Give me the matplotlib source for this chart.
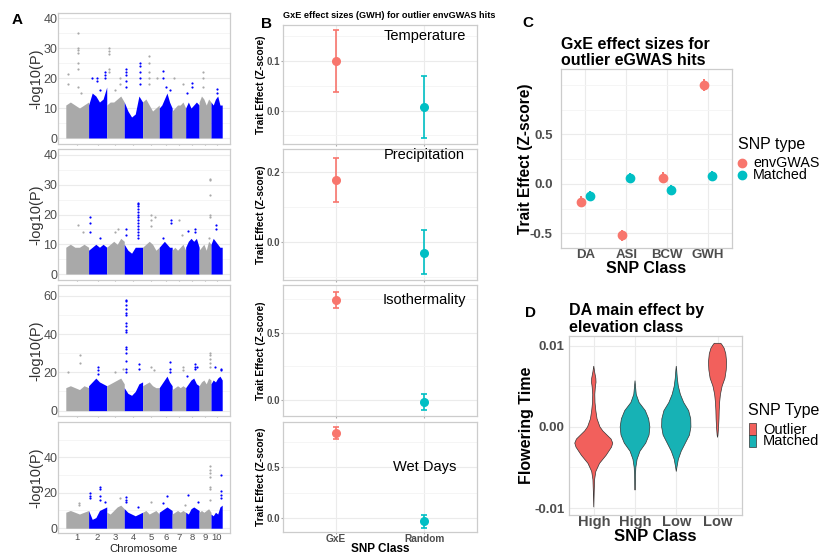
import numpy as np
import matplotlib.pyplot as plt
from matplotlib.patches import Rectangle
from matplotlib.lines import Line2D

plt.rcParams['font.family'] = ['Liberation Sans', 'DejaVu Sans']

# ---- panel A: Manhattan plots (dense band envelope + individual hits) ----
CHROM_LENGTHS = [307, 244, 236, 247, 224, 174, 182, 181, 160, 151]
CHROM_LABELS = ['1', '2', '3', '4', '5', '6', '7', '8', '9', '10']

TEMP_ENVELOPE = [
    [11, 12, 11, 10, 11, 12], [11, 15, 14, 12, 13, 17], [11, 12, 12, 13, 14, 12],
    [12, 9, 7, 8, 14, 12], [12, 13, 11, 9, 10, 11], [10, 11, 13, 15, 12, 10],
    [9, 10, 11, 11, 12, 10], [10, 12, 10, 11, 12, 11], [12, 14, 13, 11, 13, 12],
    [12, 11, 13, 14, 11, 11]]
TEMP_PEAKS = [
    (1, 0.53, [35, 30, 29.5, 28.5, 25, 23, 17]), (1, 0.09, [21.5, 18]), (1, 0.65, [15]),
    (2, 0.18, [20]), (2, 0.45, [20, 19]), (2, 0.64, [16]), (2, 0.93, [22, 21, 20]),
    (3, 0.15, [30, 29, 28, 23, 22]), (3, 0.48, [16]), (3, 0.73, [20, 18]),
    (4, 0.07, [23, 22, 21, 19, 17]), (4, 0.87, [25, 24, 22, 20, 18]),
    (5, 0.36, [27.5, 25, 22, 20, 18]), (5, 0.86, [20]),
    (6, 0.31, [22.5, 20]), (6, 0.54, [17]), (6, 0.85, [16]),
    (7, 0.13, [20]), (7, 0.82, [18]), (8, 0.5, [18.5, 17]), (8, 0.12, [15]),
    (9, 0.34, [22, 20, 17]), (10, 0.53, [16.5, 15])]

PREC_ENVELOPE = [
    [9, 10, 9, 9, 10, 9], [8, 9, 10, 9, 10, 9], [9, 10, 11, 10, 12, 11],
    [10, 8, 7, 9, 9, 9], [9, 10, 11, 10, 8, 9], [9, 10, 11, 10, 9, 9],
    [8, 9, 8, 9, 10, 8], [9, 11, 12, 11, 12, 9], [8, 9, 10, 8, 11, 10],
    [10, 12, 11, 10, 9, 9]]
PREC_PEAKS = [
    (1, 0.53, [16.5]), (1, 0.75, [14]), (2, 0.05, [19, 17, 14]), (2, 0.64, [12]),
    (3, 0.67, [15]), (3, 0.48, [14]), (4, 0.07, [15, 13]),
    (4, 0.75, [24, 23.5, 23, 22, 21, 20, 19, 18, 17, 16, 15, 14, 13, 12]),
    (5, 0.5, [20, 18, 16]), (5, 0.72, [19]), (6, 0.9, [18, 17]), (6, 0.33, [12]),
    (7, 0.54, [18]), (7, 0.74, [13]), (8, 0.69, [15, 14]), (8, 0.17, [14.5]),
    (9, 0.94, [32, 31.5, 26.5, 20, 19]), (9, 0.8, [12]), (10, 0.44, [16.5, 15])]

ISO_ENVELOPE = [
    [12, 13, 12, 11, 13, 12], [13, 15, 17, 15, 14, 13], [13, 14, 15, 16, 17, 14],
    [12, 9, 8, 10, 14, 15], [13, 14, 15, 13, 12, 12], [12, 14, 16, 18, 15, 13],
    [11, 12, 13, 12, 13, 12], [12, 14, 16, 17, 14, 13], [13, 15, 16, 14, 17, 16],
    [14, 16, 15, 17, 18, 16]]
ISO_PEAKS = [
    (1, 0.63, [29, 25]), (1, 0.09, [20]), (2, 0.51, [23, 21, 19]),
    (3, 0.48, [20]), (3, 0.92, [22]),
    (4, 0.07, [58, 57, 55, 53, 51, 50, 46, 44, 42, 41, 33, 32, 30, 26, 22, 20]),
    (4, 0.78, [24.5, 22]), (5, 0.5, [23]), (5, 0.66, [21]),
    (6, 0.85, [25.5, 22, 20]), (7, 0.82, [23, 21]),
    (8, 0.67, [24.5, 23, 22]), (8, 0.88, [23]), (8, 0.12, [18]),
    (9, 0.94, [30, 29, 27, 25, 23]), (10, 0.33, [23]), (10, 0.89, [22, 21])]

WET_ENVELOPE = [
    [9, 10, 9, 8, 9, 10], [10, 5, 6, 10, 11, 12], [9, 8, 10, 12, 13, 11],
    [11, 9, 8, 7, 8, 9], [9, 10, 8, 9, 10, 8], [9, 10, 11, 12, 11, 10],
    [8, 9, 10, 9, 10, 9], [9, 8, 11, 12, 11, 10], [9, 10, 9, 10, 11, 9],
    [8, 7, 9, 8, 12, 13]]
WET_PEAKS = [
    (1, 0.57, [14, 13]), (2, 0.09, [20, 18, 17]), (2, 0.64, [23, 22, 18, 16]),
    (2, 0.91, [15]), (3, 0.73, [17]), (4, 0.07, [17.5, 16, 15]), (4, 0.75, [12]),
    (5, 0.5, [15]), (6, 0.59, [18]), (6, 0.33, [14]), (7, 0.95, [13]),
    (8, 0.19, [19]), (8, 0.95, [15]), (9, 0.89, [35, 33, 31, 29, 23, 22, 16]),
    (10, 0.92, [30, 21, 19, 17])]

A_ENVELOPES = [TEMP_ENVELOPE, PREC_ENVELOPE, ISO_ENVELOPE, WET_ENVELOPE]
A_PEAKS = [TEMP_PEAKS, PREC_PEAKS, ISO_PEAKS, WET_PEAKS]

# ---- panel B: GxE effect sizes (GWH) ----
B_PANELS = ['Temperature', 'Precipitation', 'Isothermality', 'Wet Days']
B_CLASSES = ['GxE', 'Random']
B_GXE = [0.100, 0.178, 0.746, 0.841]
B_GXE_LO = [0.038, 0.115, 0.682, 0.779]
B_GXE_HI = [0.163, 0.240, 0.806, 0.904]
B_RANDOM = [0.007, -0.031, -0.017, -0.033]
B_RANDOM_LO = [-0.056, -0.094, -0.079, -0.099]
B_RANDOM_HI = [0.070, 0.034, 0.045, 0.027]

# ---- panel C: effect sizes per trait ----
C_CLASSES = ['DA', 'ASI', 'BCW', 'GWH']
C_ENV = [-0.18, -0.52, 0.06, 1.0]
C_ENV_ERR = [0.055, 0.055, 0.055, 0.06]
C_MATCHED = [-0.12, 0.055, -0.065, 0.08]
C_MATCHED_ERR = [0.05, 0.05, 0.05, 0.05]
C_TYPES = ['envGWAS', 'Matched']

# ---- panel D: violin outlines (value, half width) ----
D_CLASSES = ['High', 'High', 'Low', 'Low']
D_TYPES = ['Outlier', 'Matched', 'Matched', 'Outlier']
D_Y = [
    [-0.0099, -0.008, -0.0065, -0.0055, -0.0045, -0.0035, -0.0025, -0.002, -0.0015,
     -0.001, -0.0005, 0.0, 0.001, 0.002, 0.003, 0.004, 0.005, 0.0055, 0.006, 0.0068, 0.0075],
    [-0.0078, -0.007, -0.006, -0.005, -0.004, -0.003, -0.002, -0.001, 0.0, 0.001,
     0.002, 0.003, 0.004, 0.005, 0.0057],
    [-0.0055, -0.005, -0.004, -0.003, -0.002, -0.001, 0.0, 0.001, 0.002, 0.003,
     0.004, 0.005, 0.006, 0.007, 0.0075],
    [-0.0013, -0.001, 0.0, 0.001, 0.002, 0.003, 0.004, 0.005, 0.006, 0.007, 0.008,
     0.009, 0.0097, 0.0101, 0.0103]]
D_W = [
    [0.0, 0.01, 0.02, 0.05, 0.14, 0.3, 0.43, 0.46, 0.42, 0.32, 0.22, 0.15, 0.08, 0.05,
     0.03, 0.025, 0.04, 0.055, 0.05, 0.02, 0.0],
    [0.0, 0.006, 0.01, 0.02, 0.05, 0.12, 0.26, 0.34, 0.36, 0.33, 0.25, 0.1, 0.03, 0.012, 0.0],
    [0.0, 0.015, 0.05, 0.12, 0.22, 0.32, 0.355, 0.35, 0.3, 0.18, 0.1, 0.05, 0.025, 0.01, 0.0],
    [0.0, 0.01, 0.025, 0.035, 0.04, 0.05, 0.07, 0.11, 0.18, 0.21, 0.22, 0.2, 0.16, 0.11, 0.08]]
D_LEGEND = ['Outlier', 'Matched']

RED = '#F8766D'
TEAL = '#00BFC4'
VRED = '#F2605C'
VTEAL = '#17B2B5'
GREY_TXT = '#4D4D4D'

W, H = 822, 554
fig = plt.figure(figsize=(8.22, 5.54), dpi=100)


def px_axes(left, top, right, bottom):
    return fig.add_axes([left / W, 1 - bottom / H, (right - left) / W, (bottom - top) / H])


def ftext(x, y, s, **kw):
    kw.setdefault('va', 'center')
    return fig.text(x / W, 1 - y / H, s, **kw)


def gg_style(ax, major_x=True):
    ax.set_facecolor('white')
    for s in ax.spines.values():
        s.set_color('#CCCCCC')
        s.set_linewidth(0.9)
    ax.set_axisbelow(True)
    ax.grid(which='major', axis='y', color='#EBEBEB', lw=0.8)
    ax.grid(which='minor', axis='y', color='#F4F4F4', lw=0.6)
    if major_x:
        ax.grid(which='major', axis='x', color='#EBEBEB', lw=0.8)
    ax.tick_params(which='major', length=1.5, color='#AAAAAA', pad=1)
    ax.tick_params(which='minor', length=0)


# ---- Panel A ----
offsets = np.concatenate([[0], np.cumsum(CHROM_LENGTHS)[:-1]])
centers = offsets + np.array(CHROM_LENGTHS) / 2
total = sum(CHROM_LENGTHS)
a_rows = [(13, 144), (149, 280), (285, 416), (422, 533)]
a_ylims = [(-2, 41.7), (-2, 42), (-2.8, 65.6), (-2.7, 59.9)]
a_ticks = [[0, 10, 20, 30, 40], [0, 10, 20, 30, 40], [0, 20, 40, 60], [0, 20, 40]]
for i, (top, bot) in enumerate(a_rows):
    ax = px_axes(58, top, 230, bot)
    gg_style(ax, major_x=False)
    for c in range(10):
        col = '#A9A9A9' if c % 2 == 0 else '#0000FF'
        env = A_ENVELOPES[i][c]
        xs = np.linspace(offsets[c], offsets[c] + CHROM_LENGTHS[c], len(env))
        ax.fill_between(xs, 0, env, color=col, lw=0)
    for chrom, frac, vals in A_PEAKS[i]:
        col = '#A9A9A9' if (chrom - 1) % 2 == 0 else '#0000FF'
        x = offsets[chrom - 1] + frac * CHROM_LENGTHS[chrom - 1]
        ax.scatter([x] * len(vals), vals, s=2.5, color=col, lw=0)
    ax.set_xlim(-105, total + 105)
    ax.set_ylim(*a_ylims[i])
    ax.set_yticks(a_ticks[i])
    step = a_ticks[i][1] - a_ticks[i][0]
    ax.set_yticks(np.arange(step / 2, a_ylims[i][1], step), minor=True)
    ax.set_xticks(centers)
    ax.tick_params(axis='y', labelsize=9, labelcolor=GREY_TXT, length=0, pad=0.5)
    if i == 3:
        ax.tick_params(axis='x', length=0, pad=0)
        ax.set_xticklabels(CHROM_LABELS, fontsize=6.8, color=GREY_TXT)
    else:
        ax.tick_params(axis='x', length=1, pad=0.2)
        ax.set_xticklabels([])
    ftext(36, (top + bot) / 2, '-log10(P)', rotation=90, ha='center', fontsize=10.5,
          color='#333333')
ftext(144, 548.8, 'Chromosome', ha='center', fontsize=8.2, color='#222222')
ftext(17, 20, 'A', ha='center', fontsize=11, fontweight='bold')

# ---- Panel B ----
b_rows = [(25, 144), (149.3, 280), (285, 416), (421.7, 532.3)]
b_ylims = [(-0.0674, 0.1726), (-0.110, 0.266), (-0.122, 0.856), (-0.145, 0.953)]
b_ticks = [[0.0, 0.1], [0.0, 0.2], [0.0, 0.5], [0.0, 0.5]]
b_minor = [[-0.05, 0.05, 0.15], [-0.1, 0.1], [0.25, 0.75], [0.25, 0.75]]
b_label_y = [0.151, 0.25, 0.744, 0.503]
for i, (top, bot) in enumerate(b_rows):
    ax = px_axes(283.3, top, 477.3, bot)
    gg_style(ax)
    ax.errorbar([1], [B_GXE[i]], yerr=[[B_GXE[i] - B_GXE_LO[i]], [B_GXE_HI[i] - B_GXE[i]]],
                fmt='o', color=RED, ms=5.5, elinewidth=1.2, capsize=2.3, capthick=1.2)
    ax.errorbar([2], [B_RANDOM[i]],
                yerr=[[B_RANDOM[i] - B_RANDOM_LO[i]], [B_RANDOM_HI[i] - B_RANDOM[i]]],
                fmt='o', color=TEAL, ms=5.5, elinewidth=1.2, capsize=2.3, capthick=1.2)
    ax.text(2, b_label_y[i], B_PANELS[i], ha='center', va='center', fontsize=10.5)
    ax.set_xlim(0.4, 2.6)
    ax.set_ylim(*b_ylims[i])
    ax.set_yticks(b_ticks[i])
    ax.set_yticklabels(['%.1f' % t for t in b_ticks[i]], fontsize=7, fontweight='bold',
                       color=GREY_TXT)
    ax.set_yticks(b_minor[i], minor=True)
    ax.set_xticks([1, 2])
    ax.tick_params(axis='x', length=1.2, pad=0.3)
    if i == 3:
        ax.set_xticklabels(B_CLASSES, fontsize=7.3, fontweight='bold', color=GREY_TXT)
    else:
        ax.set_xticklabels([])
    ftext(260.7, (top + bot) / 2, 'Trait Effect (Z-score)', rotation=90, ha='center',
          fontsize=7.3, fontweight='bold')
ftext(380, 549, 'SNP Class', ha='center', fontsize=8.5, fontweight='bold')
ftext(283.3, 15, 'GxE effect sizes (GWH) for outlier envGWAS hits', ha='left',
      fontsize=6.6, fontweight='bold')
ftext(266, 24, 'B', ha='center', fontsize=11, fontweight='bold')

# ---- Panel C ----
ax = px_axes(561, 69.3, 732.3, 248.3)
gg_style(ax)
xc = np.arange(1, len(C_CLASSES) + 1)
ax.errorbar(xc - 0.1, C_ENV, yerr=C_ENV_ERR, fmt='o', color=RED, ms=6, elinewidth=1.4,
            capsize=0)
ax.errorbar(xc + 0.1, C_MATCHED, yerr=C_MATCHED_ERR, fmt='o', color=TEAL, ms=6,
            elinewidth=1.4, capsize=0)
ax.set_xlim(0.4, 4.6)
ax.set_ylim(-0.652, 1.157)
ax.set_yticks([-0.5, 0.0, 0.5])
ax.set_yticklabels(['-0.5', '0.0', '0.5'], fontsize=9.5, fontweight='bold', color=GREY_TXT)
ax.set_yticks([-0.25, 0.25, 0.75, 1.0], minor=True)
ax.set_xticks(xc)
ax.set_xticklabels(C_CLASSES, fontsize=9.5, fontweight='bold', color=GREY_TXT)
ax.tick_params(axis='x', length=0, pad=0.8)
ax.tick_params(axis='y', length=0, pad=6)
ftext(525.5, 158.8, 'Trait Effect (Z-score)', rotation=90, ha='center', fontsize=11.2,
      fontweight='bold')
ftext(646.5, 268.5, 'SNP Class', ha='center', fontsize=11.5, fontweight='bold')
ftext(561, 52.5, 'GxE effect sizes for\noutlier eGWAS hits', ha='left', fontsize=11.5,
      fontweight='bold', linespacing=1.1)
ftext(528, 23, 'C', ha='center', fontsize=11, fontweight='bold')

# legend C (drawn by hand to match the tight ggplot key spacing)
ftext(738, 145, 'SNP type', ha='left', fontsize=11.5)
for j, (lab, col) in enumerate(zip(C_TYPES, [RED, TEAL])):
    yy = 163.3 + 11.7 * j
    fig.add_artist(Line2D([741.7 / W], [1 - yy / H], marker='o', color=col, ms=6, lw=0))
    ftext(753.3, yy, lab, ha='left', fontsize=10.3)

# ---- Panel D ----
ax = px_axes(569, 336, 742.3, 515)
gg_style(ax)
for k in range(4):
    col = VRED if D_TYPES[k] == 'Outlier' else VTEAL
    y = np.array(D_Y[k])
    w = np.array(D_W[k])
    ax.fill(np.concatenate([k + 1 - w, (k + 1 + w)[::-1]]),
            np.concatenate([y, y[::-1]]), facecolor=col, edgecolor='#333333', lw=0.5)
ax.set_xlim(0.4, 4.6)
ax.set_ylim(-0.01086, 0.0112)
ax.set_yticks([-0.01, 0.0, 0.01])
ax.set_yticklabels(['-0.01', '0.00', '0.01'], fontsize=9.5, fontweight='bold',
                   color=GREY_TXT)
ax.set_yticks([-0.005, 0.005], minor=True)
ax.set_xticks(np.arange(1, 5))
ax.set_xticklabels(D_CLASSES, fontsize=10.5, fontweight='bold', color=GREY_TXT)
ax.tick_params(axis='x', length=0, pad=0.3)
ax.tick_params(axis='y', length=0, pad=3)
ftext(526.7, 425.5, 'Flowering Time', rotation=90, ha='center', fontsize=11.5,
      fontweight='bold')
ftext(655.6, 536.5, 'SNP Class', ha='center', fontsize=12, fontweight='bold')
ftext(569, 319, 'DA main effect by\nelevation class', ha='left', fontsize=11.5,
      fontweight='bold', linespacing=1.1)
ftext(530, 313, 'D', ha='center', fontsize=11, fontweight='bold')

# legend D
ftext(748, 410.7, 'SNP Type', ha='left', fontsize=11.5)
for j, (lab, col) in enumerate(zip(D_LEGEND, [VRED, VTEAL])):
    y0 = 423 + 11.85 * j
    fig.add_artist(Rectangle((749.3 / W, 1 - (y0 + 11.85) / H), 6.7 / W, 11.85 / H,
                             transform=fig.transFigure, facecolor=col,
                             edgecolor='#333333', lw=0.5))
    ftext(763, y0 + 6.5, lab, ha='left', fontsize=10.5)

fig.savefig('out.png', dpi=100, facecolor='white')
